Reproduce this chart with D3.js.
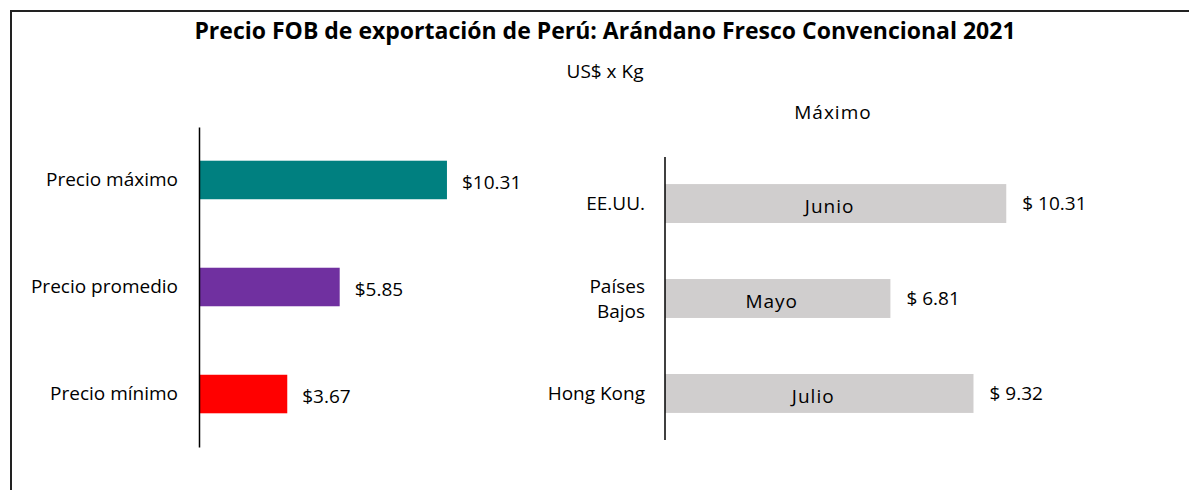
<!DOCTYPE html>
<html>
<head>
<meta charset="utf-8">
<script src="https://cdn.jsdelivr.net/npm/d3@7"></script>
<style>
  body { margin: 0; background: #fff; }
  svg { font-family: "Open Sans", Lato, sans-serif; }
</style>
</head>
<body>
<svg></svg>
<script>
// left chart data
const priceCategories = ['Precio máximo', 'Precio promedio', 'Precio mínimo'];
const priceValues = [10.31, 5.85, 3.67];
const priceColors = ['#008080', '#7030A0', '#FF0000'];

// right chart data
const countryCategories = [['EE.UU.'], ['Países', 'Bajos'], ['Hong Kong']];
const countryValues = [10.31, 6.81, 9.32];
const countryMonths = ['Junio', 'Mayo', 'Julio'];

const FS = 19;

const run = () => {
  const width = 1189, height = 490;
  const svg = d3.select('svg').attr('width', width).attr('height', height);

  // frame (only top and left edges are visible)
  svg.append('path')
    .attr('d', `M11,${height} V11 H${width}`)
    .attr('fill', 'none').attr('stroke', '#222').attr('stroke-width', 2);

  svg.append('text')
    .attr('x', 605).attr('y', 39)
    .attr('text-anchor', 'middle')
    .attr('font-size', 23).attr('font-weight', 'bold')
    .text('Precio FOB de exportación de Perú: Arándano Fresco Convencional 2021');

  svg.append('text')
    .attr('x', 605).attr('y', 78)
    .attr('text-anchor', 'middle').attr('font-size', FS)
    .text('US$ x Kg');

  // ---- left chart
  const xL = d3.scaleLinear().domain([0, 12]).range([199, 199 + 12 * 24.05]);
  const yL = d3.scaleBand().domain(priceCategories).range([127, 447])
    .paddingInner(0.64).paddingOuter(0.315);

  const left = svg.append('g');
  left.selectAll('rect')
    .data(priceValues)
    .enter()
    .append('rect')
    .attr('x', xL(0))
    .attr('y', (d, i) => yL(priceCategories[i]))
    .attr('width', d => xL(d) - xL(0))
    .attr('height', yL.bandwidth())
    .attr('fill', (d, i) => priceColors[i]);

  left.selectAll('text.val')
    .data(priceValues)
    .enter()
    .append('text')
    .attr('class', 'val')
    .attr('x', d => xL(d) + 15)
    .attr('y', (d, i) => yL(priceCategories[i]) + yL.bandwidth() / 2 + 2)
    .attr('dy', '0.35em').attr('font-size', FS)
    .text(d => '$' + d.toFixed(2));

  const axisL = left.append('g')
    .attr('transform', `translate(${xL(0)},0)`)
    .call(d3.axisLeft(yL).tickSize(0).tickPadding(21));
  axisL.select('.domain').attr('stroke', '#000').attr('stroke-width', 1.5);
  axisL.selectAll('text').attr('font-size', FS).attr('fill', '#000')
    .attr('font-family', '"Open Sans", Lato, sans-serif');

  // ---- right chart
  svg.append('text')
    .attr('x', 833).attr('y', 119)
    .attr('text-anchor', 'middle').attr('font-size', FS)
    .attr('letter-spacing', 1)
    .text('Máximo');

  const keys = countryCategories.map(d => d.join(' '));
  const xR = d3.scaleLinear().domain([0, 12]).range([665, 665 + 12 * 33.1]);
  const yR = d3.scaleBand().domain(keys).range([157, 440])
    .paddingInner(0.59).paddingOuter(0.285);

  const right = svg.append('g');
  right.selectAll('rect')
    .data(countryValues)
    .enter()
    .append('rect')
    .attr('x', xR(0))
    .attr('y', (d, i) => yR(keys[i]))
    .attr('width', d => xR(d) - xR(0))
    .attr('height', yR.bandwidth())
    .attr('fill', '#D0CECE');

  right.selectAll('text.month')
    .data(countryValues)
    .enter()
    .append('text')
    .attr('class', 'month')
    .attr('x', d => (xR(0) + xR(d)) / 2 - 6)
    .attr('y', (d, i) => yR(keys[i]) + yR.bandwidth() / 2 + 3)
    .attr('dy', '0.35em').attr('text-anchor', 'middle').attr('font-size', FS)
    .attr('letter-spacing', 1)
    .text((d, i) => countryMonths[i]);

  right.selectAll('text.val')
    .data(countryValues)
    .enter()
    .append('text')
    .attr('class', 'val')
    .attr('x', d => xR(d) + 16)
    .attr('y', (d, i) => yR(keys[i]) + yR.bandwidth() / 2)
    .attr('dy', '0.35em').attr('font-size', FS)
    .text(d => '$ ' + d.toFixed(2));

  right.append('line')
    .attr('x1', xR(0)).attr('x2', xR(0))
    .attr('y1', 157).attr('y2', 440)
    .attr('stroke', '#000').attr('stroke-width', 1.5);

  // category labels, some on two lines
  const lab = right.selectAll('text.cat')
    .data(countryCategories)
    .enter()
    .append('text')
    .attr('class', 'cat')
    .attr('text-anchor', 'end').attr('font-size', FS);
  lab.each(function (lines, i) {
    const cy = yR(keys[i]) + yR.bandwidth() / 2;
    lines.forEach((l, j) => {
      d3.select(this).append('tspan')
        .attr('x', xR(0) - 20)
        .attr('y', cy + (j - (lines.length - 1) / 2) * 25)
        .attr('dy', '0.35em')
        .text(l);
    });
  });
};

window.app = { run };
window.app.run();
</script>
</body>
</html>
